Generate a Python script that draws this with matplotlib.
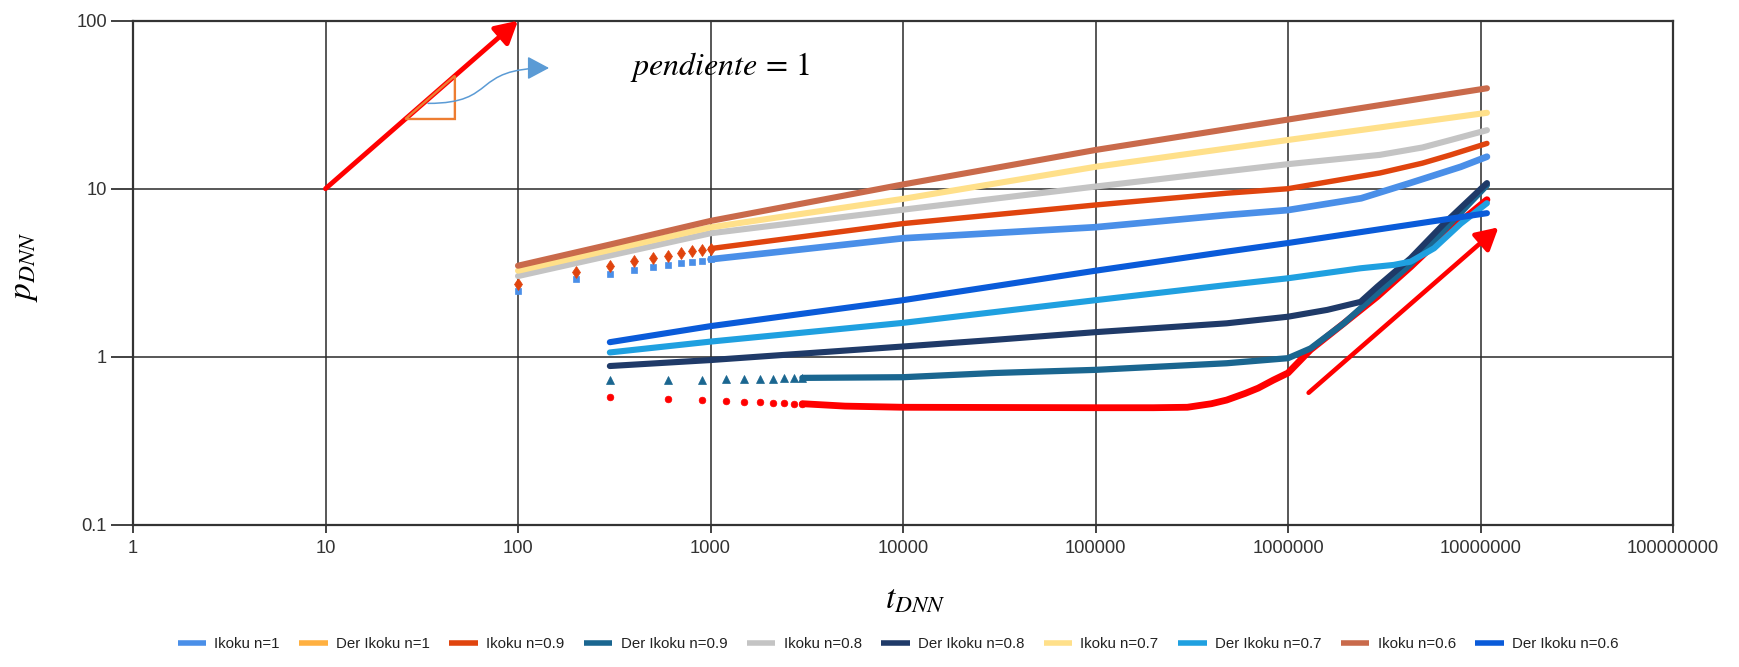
import numpy as np
import matplotlib
matplotlib.use('Agg')
import matplotlib.pyplot as plt
from matplotlib.lines import Line2D
from matplotlib.patches import Polygon, FancyArrowPatch
from matplotlib.path import Path
from matplotlib.ticker import FixedLocator, FixedFormatter, NullLocator

plt.rcParams['mathtext.fontset'] = 'stix'
SANS = ['Liberation Sans', 'DejaVu Sans']

# ---------------- data ----------------
x_ticks = [1, 10, 100, 1000, 10000, 100000, 1000000, 10000000, 100000000]
x_tick_labels = ['1', '10', '100', '1000', '10000', '100000', '1000000',
                 '10000000', '100000000']
y_ticks = [0.1, 1, 10, 100]
y_tick_labels = ['0.1', '1', '10', '100']

series_labels = ['Ikoku n=1', 'Der Ikoku n=1', 'Ikoku n=0.9', 'Der Ikoku n=0.9',
                 'Ikoku n=0.8', 'Der Ikoku n=0.8', 'Ikoku n=0.7', 'Der Ikoku n=0.7',
                 'Ikoku n=0.6', 'Der Ikoku n=0.6']

t_ik_n1 = [100, 200, 300, 400, 500, 600, 700, 800, 900, 1000,
           1e4, 1e5, 4.8e5, 1e6, 2.4e6, 4.3e6, 7.9e6, 1.08e7]
p_ik_n1 = [2.47, 2.89, 3.11, 3.28, 3.40, 3.50, 3.60, 3.68, 3.73, 3.80,
           5.07, 5.9, 6.97, 7.46, 8.77, 10.8, 13.5, 15.5]

t_der_n1 = [300, 600, 900, 1200, 1500, 1800, 2100, 2400, 2700, 3000,
            5000, 1e4, 1e5, 2e5, 3e5, 4e5, 4.8e5, 6e5, 7e5, 8.4e5, 1e6, 1.31e6,
            1.95e6, 2.91e6, 4.34e6, 6.47e6, 1.08e7]
p_der_n1 = [0.578, 0.562, 0.552, 0.545, 0.541, 0.536, 0.532, 0.528, 0.526, 0.525,
            0.508, 0.50, 0.497, 0.497, 0.50, 0.525, 0.552, 0.605, 0.65, 0.726, 0.80, 1.1,
            1.58, 2.28, 3.43, 5.3, 8.6]

t_ik_n09 = [100, 200, 300, 400, 500, 600, 700, 800, 900, 1000,
            1e4, 1e5, 4.8e5, 1e6, 3e6, 5e6, 7e6, 1.08e7]
p_ik_n09 = [2.71, 3.21, 3.48, 3.72, 3.86, 4.00, 4.12, 4.24, 4.32, 4.40,
            6.2, 8.0, 9.4, 10.0, 12.4, 14.2, 15.9, 18.6]

t_der_n09 = [300, 600, 900, 1200, 1500, 1800, 2100, 2400, 2700, 3000,
             1e4, 3e4, 1e5, 4.8e5, 1e6, 1.31e6, 1.95e6, 2.91e6, 4.34e6, 6.47e6, 1.08e7]
p_der_n09 = [0.726, 0.726, 0.726, 0.733, 0.737, 0.737, 0.74, 0.744, 0.744, 0.748,
             0.755, 0.80, 0.835, 0.914, 0.98, 1.12, 1.58, 2.38, 3.56, 5.68, 10.5]

t_ik_n08 = [100, 300, 1000, 1e4, 1e5, 1e6, 3e6, 5e6, 7e6, 1.08e7]
p_ik_n08 = [3.02, 4.0, 5.43, 7.5, 10.3, 14.0, 15.9, 17.6, 19.5, 22.3]

t_der_n08 = [300, 1000, 1e4, 3e4, 1e5, 4.8e5, 1e6, 1.6e6, 2.38e6, 2.91e6,
             4.34e6, 6.47e6, 1.08e7]
p_der_n08 = [0.88, 0.955, 1.15, 1.26, 1.40, 1.58, 1.73, 1.9, 2.12, 2.61,
             3.86, 6.2, 10.8]

t_ik_n07 = [100, 300, 1000, 1e4, 1e5, 1e6, 1.08e7]
p_ik_n07 = [3.25, 4.32, 5.89, 8.7, 13.5, 19.5, 28.3]

t_der_n07 = [300, 1000, 1e4, 1e5, 4.8e5, 1e6, 2.38e6, 3.55e6, 4.34e6, 5.74e6,
             7.9e6, 1.08e7]
p_der_n07 = [1.06, 1.23, 1.59, 2.17, 2.67, 2.93, 3.36, 3.52, 3.68, 4.42,
             6.2, 8.2]

t_ik_n06 = [100, 300, 1000, 1e4, 1e5, 1e6, 1.08e7]
p_ik_n06 = [3.48, 4.65, 6.43, 10.6, 17.0, 25.8, 39.6]

t_der_n06 = [300, 1000, 1e4, 1e5, 4.8e5, 1e6, 1.08e7]
p_der_n06 = [1.22, 1.52, 2.17, 3.25, 4.22, 4.75, 7.15]

# unit-slope guide arrows and triangle (data coordinates)
slope_arrow_t = [10, 100]
slope_arrow_p = [10, 100]
late_arrow_t = [1.28e6, 1.24e7]
late_arrow_p = [0.61, 5.89]
tri_t = [26, 47, 47]
tri_p = [26, 26, 47]
curve_t = [34.1, 80, 56, 145]
curve_p = [32.2, 32.2, 52.3, 52.3]

# ---------------- styles ----------------
legend_colors = ['#4A8FE8', '#FFB040', '#E0440E', '#1A6690', '#C4C4C4',
                 '#1F3A68', '#FFE08A', '#1FA0E0', '#C96A4B', '#0A5BD9']
plot_colors = ['#4A8FE8', '#FF0000', '#E0440E', '#1A6690', '#C4C4C4',
               '#1F3A68', '#FFE08A', '#1FA0E0', '#C96A4B', '#0A5BD9']

series = [
    (t_ik_n1, p_ik_n1, 's', 4.8, 4.8, 1000),
    (t_der_n1, p_der_n1, 'o', 4.8, 4.9, 3000),
    (t_ik_n09, p_ik_n09, 'd', 6.0, 3.9, 1000),
    (t_der_n09, p_der_n09, '^', 5.2, 4.5, 3000),
    (t_ik_n08, p_ik_n08, None, 0, 4.4, 0),
    (t_der_n08, p_der_n08, None, 0, 4.4, 0),
    (t_ik_n07, p_ik_n07, None, 0, 4.4, 0),
    (t_der_n07, p_der_n07, None, 0, 4.4, 0),
    (t_ik_n06, p_ik_n06, None, 0, 4.4, 0),
    (t_der_n06, p_der_n06, None, 0, 4.4, 0),
]

W, H = 1739, 667
fig = plt.figure(figsize=(W / 100, H / 100), dpi=100)
L, R, T, B = 133, 1673, 20.7, 524.7
ax = fig.add_axes([L / W, 1 - B / H, (R - L) / W, (B - T) / H])
ax.set_xscale('log')
ax.set_yscale('log')
ax.set_xlim(1, 1e8)
ax.set_ylim(0.1, 100)

ax.xaxis.set_major_locator(FixedLocator(x_ticks))
ax.xaxis.set_major_formatter(FixedFormatter(x_tick_labels))
ax.yaxis.set_major_locator(FixedLocator(y_ticks))
ax.yaxis.set_major_formatter(FixedFormatter(y_tick_labels))
ax.xaxis.set_minor_locator(NullLocator())
ax.yaxis.set_minor_locator(NullLocator())

ax.grid(True, which='major', color='#2a2a2a', lw=1.1, zorder=0)
ax.set_axisbelow(True)
for s in ax.spines.values():
    s.set_color('#333333')
    s.set_linewidth(1.6)
ax.tick_params(axis='x', length=5.8, width=1.3, color='#333333', pad=5,
               labelsize=13.2, labelcolor='#333333')
ax.tick_params(axis='y', length=15.8, width=1.3, color='#333333', pad=3,
               labelsize=13.2, labelcolor='#333333')
for lbl in ax.get_xticklabels() + ax.get_yticklabels():
    lbl.set_family(SANS)

for i, (t, p, mk, ms, lw, tj) in enumerate(series):
    t = np.asarray(t, dtype=float)
    p = np.asarray(p, dtype=float)
    col = plot_colors[i]
    z = 3 + i * 0.1
    if mk:
        early = t <= tj
        ax.plot(t[early], p[early], ls='none', marker=mk, ms=ms, color=col,
                mec=col, mew=0.5, zorder=z)
        sel = t >= tj
        ax.plot(t[sel], p[sel], color=col, lw=lw, solid_capstyle='round',
                solid_joinstyle='round', zorder=z)
    else:
        ax.plot(t, p, color=col, lw=lw, solid_capstyle='round',
                solid_joinstyle='round', zorder=z)

# slope arrows
for at, ap, lw in [(slope_arrow_t, slope_arrow_p, 3.5), (late_arrow_t, late_arrow_p, 3.3)]:
    ax.annotate('', xy=(at[1], ap[1]), xytext=(at[0], ap[0]),
                arrowprops=dict(arrowstyle='-|>,head_length=0.6,head_width=0.33',
                                color='#FF0000', lw=lw, shrinkA=0, shrinkB=0,
                                mutation_scale=22),
                zorder=6, annotation_clip=False)

ax.add_patch(Polygon(np.column_stack([tri_t, tri_p]), closed=True, fill=False,
                     edgecolor='#ED7D31', lw=1.7, zorder=7))

curve = Path(np.column_stack([curve_t, curve_p]),
             [Path.MOVETO, Path.CURVE4, Path.CURVE4, Path.CURVE4])
ax.add_patch(FancyArrowPatch(path=curve, arrowstyle='-|>,head_length=0.75,head_width=0.4',
                             mutation_scale=18, color='#5B9BD5', lw=1.1,
                             transform=ax.transData, zorder=7))

fig.text(720 / W, 1 - 66.5 / H, r'$pendiente\, =\, 1$', fontsize=23,
         ha='center', va='center', color='black')
fig.text(915 / W, 1 - 598 / H, r'$t_{DNN}$', fontsize=24, ha='center',
         va='center', color='black')
fig.text(23 / W, 1 - 267 / H, r'$p_{DNN}$', fontsize=24, ha='center',
         va='center', rotation=90, color='black')

handles = [Line2D([0], [0], color=c, lw=4, solid_capstyle='butt') for c in legend_colors]
leg = fig.legend(handles, series_labels, loc='center', bbox_to_anchor=(0.5164, 1 - 644 / H),
                 ncol=10, frameon=False, handlelength=1.9, handletextpad=0.55,
                 columnspacing=1.3, prop=dict(family=SANS, size=10.8))
for tx in leg.get_texts():
    tx.set_color('#222222')

fig.savefig('out.png', dpi=100)
